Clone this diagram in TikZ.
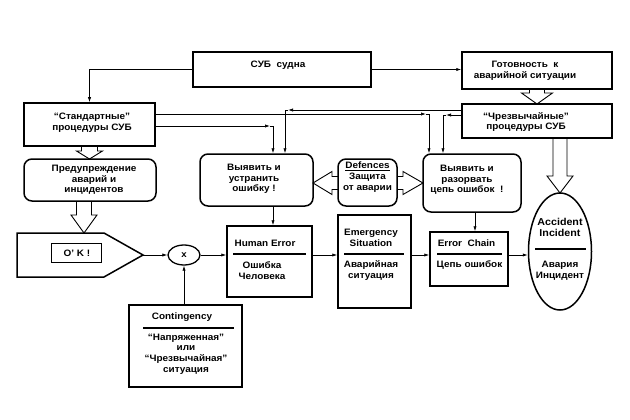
\documentclass[tikz,border=0pt]{standalone}
\usepackage{fontspec}
\setmainfont{Liberation Sans}[FakeStretch=1.07]
\usetikzlibrary{arrows.meta,shapes.geometric}
\newcommand{\bdown}[6]{\draw[hollow] ({#1-#5},#2) -- ({#1-#5},#3) -- ({#1-#6},#3) -- (#1,#4) -- ({#1+#6},#3) -- ({#1+#5},#3) -- ({#1+#5},#2);}
\newcommand{\bhoriz}[6]{\draw[hollow] (#2,{#1-#5}) -- (#3,{#1-#5}) -- (#3,{#1-#6}) -- (#4,#1) -- (#3,{#1+#6}) -- (#3,{#1+#5}) -- (#2,{#1+#5});}
\begin{document}
\begin{tikzpicture}[x=1pt,y=-1pt,
 box/.style={draw,line width=1.5pt,inner sep=0pt},
 rbox/.style={box,rounded corners=8pt},
 txt/.style={inner sep=0pt,align=center,font=\fontsize{9.3}{10.6}\selectfont\bfseries},
 bigtxt/.style={inner sep=0pt,align=center,font=\fontsize{10}{11.2}\selectfont\bfseries},
 con/.style={line width=0.7pt,-{Latex[length=5pt,width=3.2pt]}},
 hollow/.style={line width=0.9pt},
 div/.style={line width=1.3pt}]
\useasboundingbox[fill=white] (0,0) rectangle (630,420);

% boxes
\node[box,minimum width=178pt,minimum height=35pt] (suda) at (282,69.5) {};
\node[txt] (sudat) at (278,65) {СУБ\ \ судна};
\node[box,minimum width=150pt,minimum height=37pt] (gotov) at (537,70.5) {};
\node[txt] (gotovt) at (525,70.5) {Готовность\ \ к\\аварийной ситуации};
\node[box,minimum width=131pt,minimum height=43pt] (std) at (89.5,124.5) {};
\node[txt] (stdt) at (92,122.5) {“Стандартные”\\процедуры СУБ};
\node[box,minimum width=150pt,minimum height=34pt] (chrez) at (537,121) {};
\node[txt] (chrezt) at (526,122) {“Чрезвычайные”\\процедуры СУБ};
\node[rbox,minimum width=132pt,minimum height=42pt] (pred) at (90,180) {};
\node[txt] (predt) at (94,180) {Предупреждение\\аварий и\\инцидентов};
\node[rbox,minimum width=113pt,minimum height=52pt] (vyu) at (256.5,180) {};
\node[txt] (vyut) at (254,179) {Выявить и\\устранить\\ошибку !};
\node[rbox,minimum width=59pt,minimum height=47pt] (def) at (367.5,182.5) {};
\node[txt] (deft) at (367.5,177) {\underline{Defences}\\Защита\\от аварии};
\node[rbox,minimum width=98pt,minimum height=58pt] (vyr) at (472,183) {};
\node[txt] (vyrt) at (467,180) {Выявить и\\разорвать\\цепь ошибок\ \ !};

% O'K pentagon
\draw[line width=1.5pt] (17,233) -- (104,233) -- (143,255) -- (104,277) -- (17,277) -- cycle;
\coordinate (oktip) at (143,255);
\node[box,line width=1pt,minimum width=50pt,minimum height=19pt] (okin) at (76,252.5) {};
\node[txt] (okt) at (77,253) {O’ K !};

\node[draw,ellipse,line width=1.3pt,inner sep=0pt,minimum width=32pt,minimum height=20pt,font=\fontsize{9}{10}\selectfont\bfseries] (xell) at (184,255) {x};

\node[box,minimum width=85pt,minimum height=71pt] (human) at (269.5,261.5) {};
\node[txt] (humant1) at (265,243) {Human Error};
\draw[div] (233,254) -- (306,254);
\node[txt] (humant2) at (262,270.5) {Ошибка\\Человека};

\node[box,minimum width=73pt,minimum height=93pt] (emerg) at (374.5,261.5) {};
\node[txt] (emergt1) at (371,238) {Emergency\\Situation};
\draw[div] (344,254) -- (404,254);
\node[txt] (emergt2) at (371,270.5) {Аварийная\\ситуация};

\node[box,minimum width=78pt,minimum height=54pt] (chain) at (469,259) {};
\node[txt] (chaint1) at (466.5,243) {Error\ \ Chain};
\draw[div] (437,254) -- (502,254);
\node[txt] (chaint2) at (469.5,265) {Цепь ошибок};

\node[draw,ellipse,line width=1.5pt,inner sep=0pt,minimum width=63pt,minimum height=117pt] (acc) at (560,251.5) {};
\node[bigtxt] (acct1) at (560,227.5) {Accident\\Incident};
\draw[div] (535,249) -- (586,249);
\node[txt] (acct2) at (560,270.5) {Авария\\Инцидент};

\node[box,minimum width=113pt,minimum height=82pt] (cont) at (185.5,346) {};
\node[txt] (contt1) at (182,317) {Contingency};
\draw[div] (143,328) -- (234,328);
\node[txt] (contt2) at (186,354) {“Напряженная”\\или\\“Чрезвычайная”\\ситуация};

% connectors
\draw[con] (suda.west) -| (std.north);
\draw[con] (suda.east) -- (suda.east -| gotov.west);

\coordinate (k1) at (273,126); \coordinate (k1a) at (270,126);
\draw[con] (std.east |- k1) -- (k1a);
\draw[con] (k1a) -- (k1) -- (k1 |- vyu.north);
\coordinate (k2) at (429,114); \coordinate (k2a) at (426,114);
\draw[con] (std.east |- k2) -- (k2a);
\draw[con] (k2a) -- (k2) -- (k2 |- vyr.north);
\coordinate (k3) at (285,110); \coordinate (k3a) at (288,110);
\draw[con] (chrez.west |- k3) -- (k3a);
\draw[con] (k3a) -- (k3) -- (k3 |- vyu.north);
\coordinate (k4) at (443,115); \coordinate (k4a) at (446,115);
\draw[con] (chrez.west |- k4) -- (k4a);
\draw[con] (k4a) -- (k4) -- (k4 |- vyr.north);

\draw[con] (k1 |- vyu.south) -- (k1 |- human.north);
\coordinate (k6) at (475,0);
\draw[con] (k6 |- vyr.south) -- (k6 |- chain.north);

\draw[con] (oktip) -- (xell.west);
\draw[con] (xell.east) -- (xell.east -| human.west);
\draw[con] (human.east |- xell) -- (emerg.west |- xell);
\draw[con] (emerg.east |- xell) -- (chain.west |- xell);
\draw[con] (chain.east |- xell) -- (acc.west |- xell);
\draw[con] (cont.north -| xell) -- (xell.south);

% hollow arrows
\bdown{537}{89}{93}{104}{7.5}{15.5}
\bdown{89.5}{146}{151}{159}{8}{13}
\bdown{84}{201}{215}{233}{7.5}{13}
\bdown{560}{138}{176}{193}{7}{13}
\bhoriz{183}{338}{332}{313}{6.5}{11.5}
\bhoriz{183}{397}{403}{423}{6.5}{11.5}
\end{tikzpicture}
\end{document}
